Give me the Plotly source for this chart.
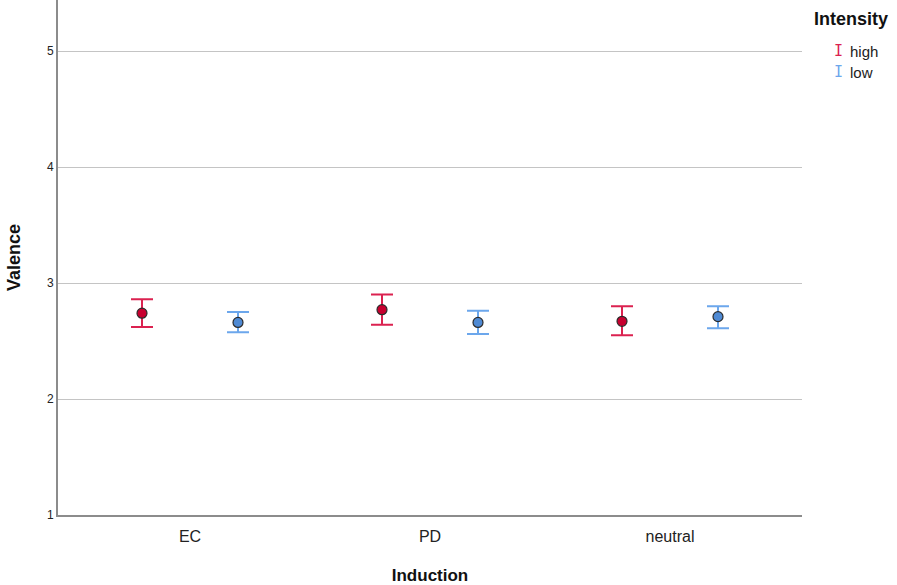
import plotly.graph_objects as go

# Induction conditions on the x axis
categories = ["EC", "PD", "neutral"]

# Mean valence and confidence interval bounds per intensity level
high_mean = [2.74, 2.77, 2.67]
high_upper = [2.86, 2.90, 2.80]
high_lower = [2.62, 2.64, 2.55]

low_mean = [2.66, 2.66, 2.71]
low_upper = [2.75, 2.76, 2.80]
low_lower = [2.575, 2.56, 2.61]

y_ticks = [1, 2, 3, 4, 5]

RED = "#DB2250"
RED_FILL = "#C8002F"
BLUE = "#6CA7EC"
BLUE_FILL = "#4F8AD4"

W, H = 897, 585
ML, MR, MT, MB = 58, 95, 0, 70
PW, PH = W - ML - MR, H - MT - MB


def px_to_paper(xp, yp):
    """Convert page pixel position to paper coordinates."""
    return (xp - ML) / PW, (H - MB - yp) / PH


fig = go.Figure()

series = [
    ("high", high_mean, high_upper, high_lower, RED, RED_FILL, -0.2),
    ("low", low_mean, low_upper, low_lower, BLUE, BLUE_FILL, 0.2),
]
for name, mean, upper, lower, line_col, fill_col, offset in series:
    xs = [i + offset for i in range(len(categories))]
    fig.add_trace(go.Scatter(
        x=xs, y=mean, mode="markers", name=name, showlegend=False,
        marker=dict(size=10, color=fill_col, line=dict(color="#2b2b2b", width=1.2)),
        error_y=dict(
            type="data", symmetric=False,
            array=[u - m for u, m in zip(upper, mean)],
            arrayminus=[m - l for m, l in zip(mean, lower)],
            color=line_col, thickness=2, width=11,
        ),
    ))

fig.update_layout(
    width=W, height=H,
    margin=dict(l=ML, r=MR, t=MT, b=MB),
    plot_bgcolor="white", paper_bgcolor="white",
    font=dict(family="Liberation Sans, Arial, sans-serif", color="#222"),
    xaxis=dict(
        range=[-0.55, 2.55],
        tickmode="array", tickvals=list(range(len(categories))), ticktext=categories,
        tickfont=dict(size=16, color="#222"),
        showgrid=False, zeroline=False,
        showline=True, linecolor="#8c8c8c", linewidth=2,
        ticks="", ticklen=0, ticklabelstandoff=6,
        title=dict(text="<b>Induction</b>", font=dict(size=17, color="#111"), standoff=28),
    ),
    yaxis=dict(
        range=[1, 5.44],
        tickmode="array", tickvals=y_ticks, ticktext=[str(t) for t in y_ticks],
        tickfont=dict(size=12, color="#222"),
        showgrid=True, gridcolor="#c4c4c4", gridwidth=1.3,
        zeroline=False,
        showline=True, linecolor="#8c8c8c", linewidth=2,
        ticks="", ticklen=0,
        title=dict(text="<b>Valence</b>", font=dict(size=18, color="#111"), standoff=22),
    ),
    showlegend=False,
)

# Legend drawn as text: title plus error-bar glyph for each intensity level
tx, ty = px_to_paper(812, 19)
fig.add_annotation(
    x=tx, y=ty, xref="paper", yref="paper", text="<b>Intensity</b>",
    showarrow=False, xanchor="left", yanchor="middle",
    font=dict(size=18, color="#111"),
)
for i, (name, col) in enumerate([("high", RED), ("low", BLUE)]):
    gx, gy = px_to_paper(832, 51 + i * 21)
    lx, _ = px_to_paper(848, 0)
    fig.add_annotation(
        x=gx, y=gy, xref="paper", yref="paper", text="I",
        showarrow=False, xanchor="left", yanchor="middle",
        font=dict(size=15, color=col, family="DejaVu Sans Mono"),
    )
    fig.add_annotation(
        x=lx, y=gy, xref="paper", yref="paper", text=name,
        showarrow=False, xanchor="left", yanchor="middle",
        font=dict(size=15, color="#222"),
    )

fig.write_html("out.html")
